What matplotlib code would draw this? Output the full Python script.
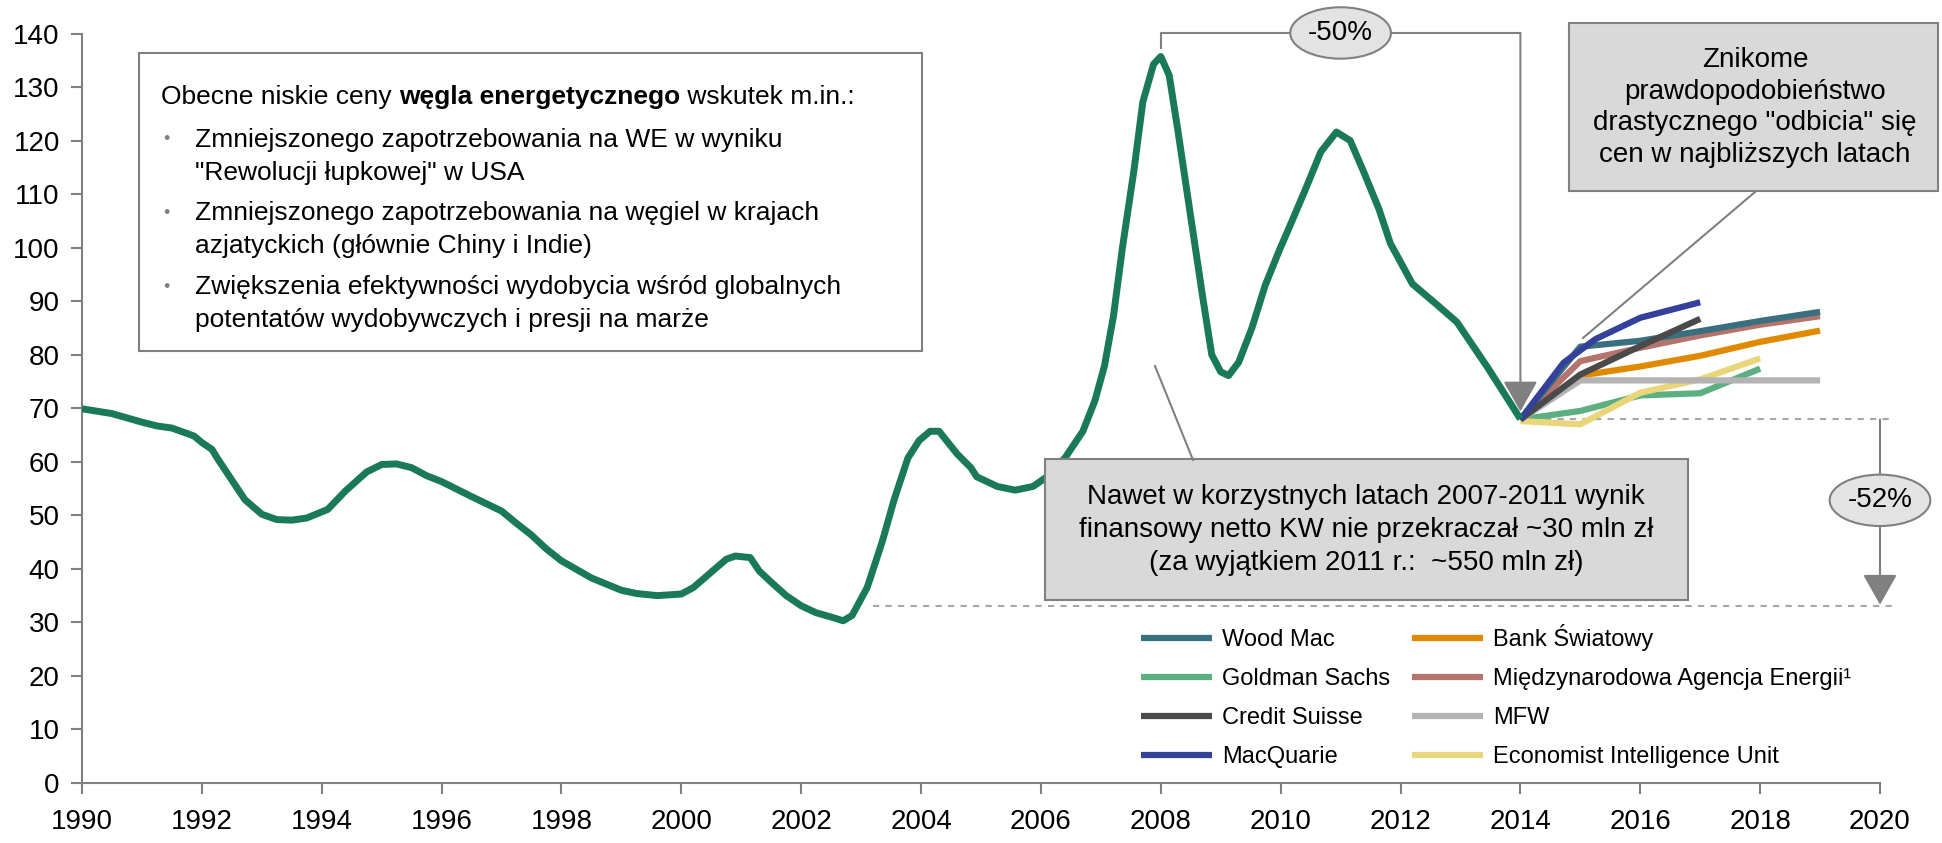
import matplotlib
matplotlib.use('Agg')
import matplotlib.pyplot as plt
from matplotlib.patches import Rectangle, Ellipse
from matplotlib.text import Annotation

plt.rcParams['font.family'] = ['Liberation Sans', 'DejaVu Sans']

# historical coal price
hist_years = [1990.0, 1990.5, 1991.0, 1991.25, 1991.5, 1991.75, 1991.87, 1992.0, 1992.17, 1992.25,
              1992.6, 1992.72, 1993.0, 1993.25, 1993.5, 1993.75, 1994.1, 1994.4, 1994.75, 1995.0,
              1995.25, 1995.5, 1995.75, 1996.0, 1996.5, 1997.0, 1997.25, 1997.5, 1997.75, 1998.0,
              1998.5, 1999.0, 1999.25, 1999.6, 2000.0, 2000.2, 2000.5, 2000.75, 2000.9, 2001.15,
              2001.3, 2001.5, 2001.75, 2002.0, 2002.25, 2002.5, 2002.7, 2002.85, 2003.1, 2003.35,
              2003.55, 2003.78, 2003.97, 2004.15, 2004.3, 2004.6, 2004.83, 2004.93, 2005.27, 2005.57,
              2005.87, 2006.1, 2006.4, 2006.7, 2006.9, 2007.06, 2007.21, 2007.36, 2007.55, 2007.7,
              2007.88, 2008.0, 2008.14, 2008.29, 2008.48, 2008.7, 2008.85, 2009.0, 2009.13, 2009.3,
              2009.52, 2009.74, 2009.97, 2010.19, 2010.41, 2010.67, 2010.93, 2011.16, 2011.38, 2011.64,
              2011.83, 2012.2, 2012.57, 2012.94, 2013.46, 2014.0]
hist_vals = [69.9, 69.0, 67.4, 66.7, 66.3, 65.3, 64.8, 63.6, 62.3, 60.8,
             54.9, 52.9, 50.2, 49.2, 49.1, 49.5, 51.1, 54.6, 58.1, 59.5,
             59.6, 58.9, 57.4, 56.3, 53.5, 50.8, 48.5, 46.3, 43.7, 41.5,
             38.3, 36.0, 35.4, 35.0, 35.3, 36.5, 39.4, 41.8, 42.4, 42.1,
             39.6, 37.5, 35.0, 33.1, 31.8, 31.0, 30.3, 31.3, 36.5, 45.0,
             52.9, 60.7, 64.0, 65.7, 65.7, 61.5, 58.9, 57.2, 55.4, 54.7,
             55.4, 57.2, 60.7, 65.7, 71.4, 77.9, 87.2, 100.0, 114.3, 127.2,
             134.3, 135.7, 132.2, 121.5, 107.2, 90.7, 80.0, 76.8, 76.1, 78.6,
             85.0, 92.9, 99.3, 105.0, 110.8, 117.9, 121.6, 120.0, 114.3, 107.2,
             100.8, 93.2, 89.7, 86.1, 77.5, 68.0]

# forecasts
wood_years = [2014, 2015, 2016, 2017, 2018, 2019]
wood_vals = [67.9, 81.5, 82.6, 84.4, 86.3, 88.0]
gs_years = [2014, 2015, 2016, 2017, 2018]
gs_vals = [67.9, 69.5, 72.4, 72.8, 77.4]
cs_years = [2014, 2015, 2016, 2017]
cs_vals = [67.9, 76.3, 81.6, 86.7]
macq_years = [2014, 2014.72, 2015.25, 2016, 2017]
macq_vals = [67.9, 78.5, 82.9, 86.9, 89.8]
wb_years = [2014, 2015, 2016, 2017, 2018, 2019]
wb_vals = [67.9, 76.1, 77.8, 79.8, 82.4, 84.5]
iea_years = [2014, 2015, 2016, 2017, 2018, 2019]
iea_vals = [67.9, 78.8, 81.3, 83.6, 85.6, 87.2]
mfw_years = [2014, 2015, 2016, 2017, 2018, 2019]
mfw_vals = [67.9, 75.2, 75.2, 75.2, 75.2, 75.2]
eiu_years = [2014, 2015, 2016, 2017, 2018]
eiu_vals = [67.6, 67.0, 72.9, 75.4, 79.3]

labels = ['Wood Mac', 'Goldman Sachs', 'Credit Suisse', 'MacQuarie',
          'Bank Światowy', 'Międzynarodowa Agencja Energii¹', 'MFW', 'Economist Intelligence Unit']
colors = ['#3A6F80', '#5BAF80', '#4A4A4A', '#34419A',
          '#E08A00', '#B4736B', '#B3B3B3', '#E9D67A']
series = [(wood_years, wood_vals), (gs_years, gs_vals), (cs_years, cs_vals), (macq_years, macq_vals),
          (wb_years, wb_vals), (iea_years, iea_vals), (mfw_years, mfw_vals), (eiu_years, eiu_vals)]
zorders = [3.3, 3.1, 3.5, 3.6, 3.2, 3.25, 3.4, 3.15]

W, H = 1942, 843
GREY = '#808080'

fig = plt.figure(figsize=(W / 100, H / 100), dpi=100)
ax = fig.add_axes([82 / W, 1 - 783 / H, (1880 - 82) / W, (783 - 33.5) / H])

def P(x, y):
    return (x / W, 1 - y / H)

ax.plot(hist_years, hist_vals, color='#19795A', lw=5, zorder=4, solid_capstyle='butt')
handles = []
for (xs, ys), c, lab, z in zip(series, colors, labels, zorders):
    h, = ax.plot(xs, ys, color=c, lw=4.5, label=lab, zorder=z, solid_capstyle='butt')
    handles.append(h)

ax.set_xlim(1990, 2020)
ax.set_ylim(0, 140)
ax.set_xticks(range(1990, 2021, 2))
ax.set_yticks(range(0, 141, 10))
for s in ['top', 'right']:
    ax.spines[s].set_visible(False)
for s in ['left', 'bottom']:
    ax.spines[s].set_color(GREY)
    ax.spines[s].set_linewidth(1.5)
ax.tick_params(axis='both', colors=GREY, labelcolor='black', labelsize=20, width=1.5, length=8)
ax.tick_params(axis='y', pad=8)
ax.tick_params(axis='x', pad=11)

# dashed reference lines
ax.plot([2014, 2020.2], [67.9, 67.9], ls=(0, (3, 3)), color='#A6A6A6', lw=1.5, clip_on=False, zorder=2)
ax.plot([2003.2, 2020.2], [33.1, 33.1], ls=(0, (3, 3)), color='#A6A6A6', lw=1.5, clip_on=False, zorder=2)

arrow_props = dict(arrowstyle='-|>,head_length=0.8,head_width=0.45', color=GREY, lw=1.5,
                   mutation_scale=24, shrinkA=0, shrinkB=0)

# -50% bracket
ax.plot([2008, 2008, 2014], [137.3, 140.1, 140.1], color=GREY, lw=1.5, clip_on=False, zorder=5)
ax.annotate('', xy=(2014, 69.4), xytext=(2014, 140.1), annotation_clip=False, zorder=5,
            arrowprops=arrow_props)
ax.add_patch(Ellipse((2011.0, 140.1), 1.68, 9.6, fc='#E3E3E3', ec=GREY, lw=1.5, clip_on=False, zorder=6))
ax.text(2011.0, 140.1, '-50%', ha='center', va='center', fontsize=20, zorder=7)

# -52% arrow
ax.annotate('', xy=(2020, 33.3), xytext=(2020, 67.9), annotation_clip=False, zorder=5,
            arrowprops=arrow_props)
ax.add_patch(Ellipse((2020, 52.8), 1.68, 9.6, fc='#E3E3E3', ec=GREY, lw=1.5, clip_on=False, zorder=6))
ax.text(2020, 52.8, '-52%', ha='center', va='center', fontsize=20, zorder=7)

# left box
fig.add_artist(Rectangle(P(139, 350.7), (922 - 139) / W, (350.7 - 53.3) / H, transform=fig.transFigure,
                         fc='white', ec=GREY, lw=1.5, zorder=8))
fs = 19
t1 = fig.text(*P(161, 97), 'Obecne niskie ceny ', fontsize=fs, va='center', zorder=9)
t2 = fig.add_artist(Annotation('węgla energetycznego', xy=(1, 0), xycoords=t1, va='bottom', ha='left',
                               fontsize=fs, fontweight='bold', zorder=9, annotation_clip=False))
t3 = fig.add_artist(Annotation(' wskutek m.in.:', xy=(1, 0), xycoords=t2, va='bottom', ha='left',
                               fontsize=fs, zorder=9, annotation_clip=False))
bullets = [('Zmniejszonego zapotrzebowania na WE w wyniku', '"Rewolucji łupkowej" w USA', 140),
           ('Zmniejszonego zapotrzebowania na węgiel w krajach', 'azjatyckich (głównie Chiny i Indie)', 213),
           ('Zwiększenia efektywności wydobycia wśród globalnych', 'potentatów wydobywczych i presji na marże', 287)]
for a, b, y in bullets:
    fig.text(*P(163, y), '•', fontsize=13, color=GREY, va='center', zorder=9)
    fig.text(*P(195, y), a, fontsize=fs, va='center', zorder=9)
    fig.text(*P(195, y + 33), b, fontsize=fs, va='center', zorder=9)

# right box
fig.add_artist(Rectangle(P(1569, 190.7), (1938 - 1569) / W, (190.7 - 22.7) / H, transform=fig.transFigure,
                         fc='#D9D9D9', ec=GREY, lw=1.5, zorder=8))
for txt, y in zip(['Znikome', 'prawdopodobieństwo', 'drastycznego "odbicia" się', 'cen w najbliższych latach'],
                  [60, 92, 123, 155]):
    fig.text(*P(1755, y), txt, fontsize=20, ha='center', va='center', zorder=9)
fig.add_artist(plt.Line2D([1755 / W, 1583 / W], [1 - 192 / H, 1 - 338 / H], color=GREY, lw=1.5, zorder=8))

# centre box
fig.add_artist(Rectangle(P(1045, 600), (1688 - 1045) / W, (600 - 459) / H, transform=fig.transFigure,
                         fc='#D9D9D9', ec=GREY, lw=1.5, zorder=8))
for txt, y in zip(['Nawet w korzystnych latach 2007-2011 wynik',
                   'finansowy netto KW nie przekraczał ~30 mln zł',
                   '(za wyjątkiem 2011 r.:  ~550 mln zł)'], [497, 530, 563]):
    fig.text(*P(1366, y), txt, fontsize=20, ha='center', va='center', zorder=9)
fig.add_artist(plt.Line2D([1155 / W, 1193 / W], [1 - 366 / H, 1 - 460 / H], color=GREY, lw=1.5, zorder=8))

ax.legend(handles, labels, ncol=2, loc='upper left', bbox_to_anchor=P(1141, 624),
          bbox_transform=fig.transFigure, frameon=False, fontsize=17, handlelength=3.0,
          handletextpad=0.45, columnspacing=0.9, labelspacing=0.72, borderpad=0, borderaxespad=0)

fig.savefig('out.png', dpi=100)
